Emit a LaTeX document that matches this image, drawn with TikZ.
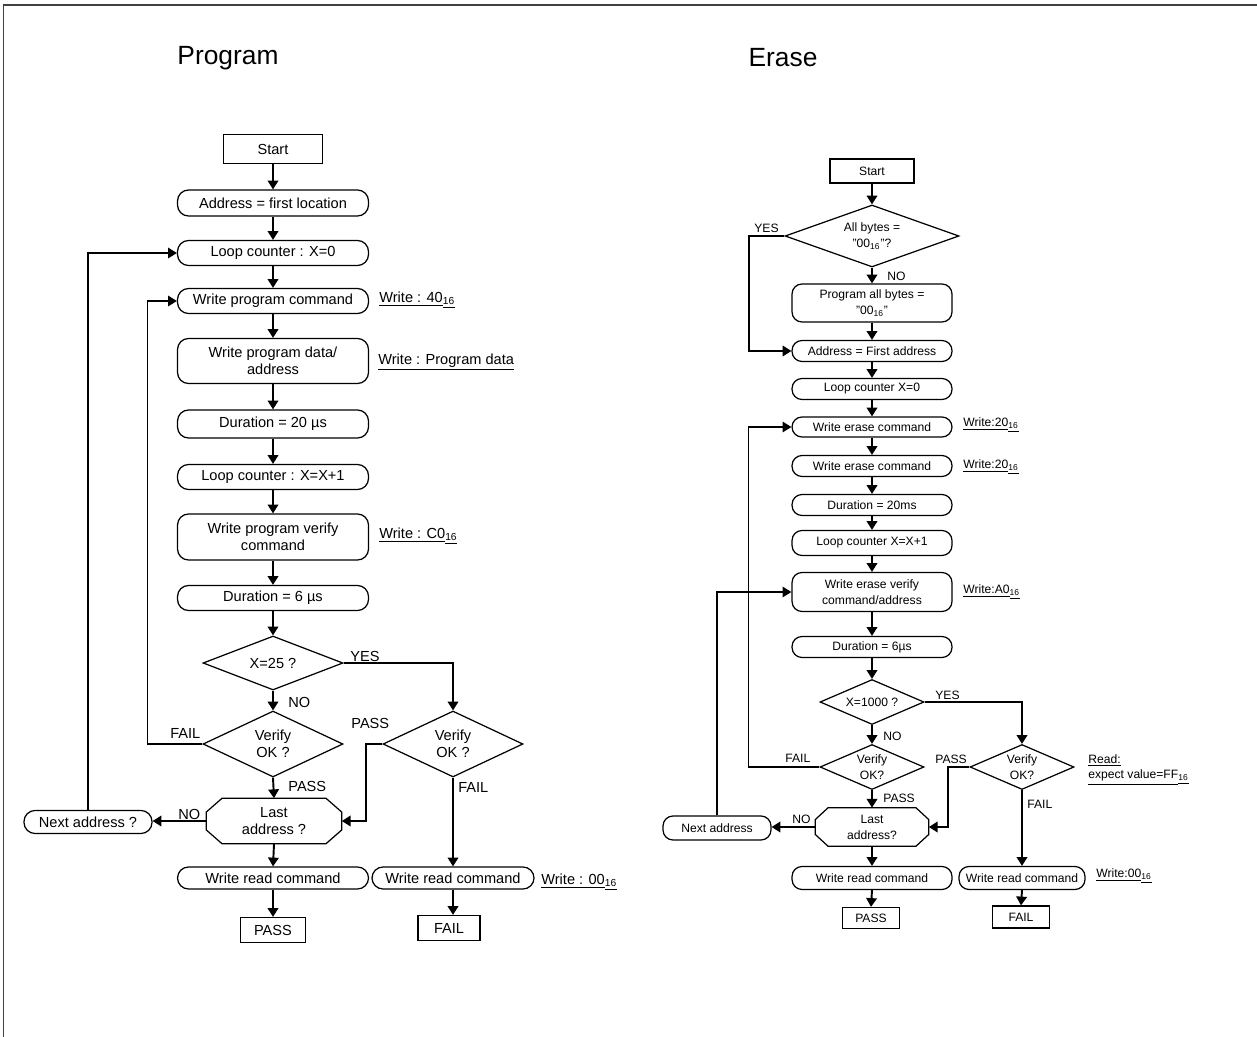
\documentclass[tikz,border=0pt]{standalone}
\usepackage{fontspec}
\setmainfont{Liberation Sans}
\usepackage{tikz}
\usetikzlibrary{shapes.geometric, arrows.meta, positioning, calc}

\newcommand{\hexval}[2]{\underline{#1}\underline{\textsubscript{#2}}}
% octagon drawn round a (plain) node: name, corner cut x, corner cut y
\newcommand{\octpath}[3]{%
  \draw[line width=0.7pt] ($(#1.north west)+(#2,0)$) -- ($(#1.north east)+(-#2,0)$) -- ($(#1.north east)+(0,#3)$)
    -- ($(#1.south east)+(0,-#3)$) -- ($(#1.south east)+(-#2,0)$) -- ($(#1.south west)+(#2,0)$)
    -- ($(#1.south west)+(0,-#3)$) -- ($(#1.north west)+(0,#3)$) -- cycle;}

\begin{document}
\begin{tikzpicture}[x=0.02cm, y=-0.02cm]
    % Define styles
    \tikzstyle{term} = [rectangle, draw, line width=0.7pt, inner sep=0pt, align=center]
    \tikzstyle{proc} = [rectangle, draw, rounded corners=0.22cm, line width=0.7pt, inner sep=0pt, align=center]
    \tikzstyle{rproc} = [proc, rounded corners=0.2cm, minimum width=3.2cm]
    \tikzstyle{pbox} = [proc, minimum width=3.82cm]
    \tikzstyle{decide} = [diamond, draw, aspect=2.5, line width=0.7pt, inner sep=0pt, align=center]
    \tikzstyle{octa} = [rectangle, inner sep=0pt, align=center]
    \tikzstyle{arrow} = [-{Triangle[length=5pt, width=6pt]}, line width=1.1pt]
    \tikzstyle{back} = [-{Triangle[length=5pt, width=6pt]}, line width=0.7pt]
    \tikzstyle{lbl} = [anchor=west, inner sep=0pt]
    \tikzstyle{lfont} = [font=\fontsize{8.3}{9.6}\selectfont]
    \tikzstyle{rfont} = [font=\fontsize{6.9}{9}\selectfont]

    \useasboundingbox (0,0) rectangle (1257,1037);
    \draw[black!75, line width=0.9pt] (3.5,1037) -- (3.5,5) -- (1257,5);

    % Titles
    \node[font=\fontsize{15}{18}\selectfont] (tprog) at (228,58) {Program};
    \node[font=\fontsize{15}{18}\selectfont] (terase) at (783,58) {Erase};

    % Program flow
    \begin{scope}[lfont]
    \node[term, minimum width=1.98cm, minimum height=0.58cm] (pstart) at (273,149) {Start};
    \node[pbox, minimum height=0.52cm] (paddr) at (273,203) {Address = first location};
    \node[pbox, minimum height=0.5cm] (ploop) at (273,253) {Loop counter : X=0};
    \node[pbox, minimum height=0.5cm] (pwcmd) at (273,301) {Write program command};
    \node[pbox, minimum height=0.9cm] (pwdata) at (273,361) {Write program data/\\address};
    \node[pbox, minimum height=0.56cm] (pdur) at (273,424) {Duration = 20 µs};
    \node[pbox, minimum height=0.5cm] (pinc) at (273,477) {Loop counter : X=X+1};
    \node[pbox, minimum height=0.92cm] (pverc) at (273,537) {Write program verify\\command};
    \node[pbox, minimum height=0.5cm] (pdur6) at (273,598) {Duration = 6 µs};
    \node[decide, minimum width=2.8cm, minimum height=1.08cm] (pchk) at (273,663) {X=25 ?};
    \node[decide, minimum width=2.8cm, minimum height=1.32cm] (pver) at (273,744) {Verify\\OK ?};
    \node[decide, minimum width=2.8cm, minimum height=1.32cm] (pver2) at (453,744) {Verify\\OK ?};
    \node[octa, minimum width=2.7cm, minimum height=0.9cm] (plast) at (274,821) {Last\\address ?};
    \octpath{plast}{16}{14}
    \node[proc, minimum width=2.56cm, minimum height=0.46cm] (pnext) at (88,822) {Next address ?};
    \node[pbox, minimum height=0.44cm] (pread) at (273,878) {Write read command};
    \node[proc, minimum width=3.24cm, minimum height=0.44cm] (pread2) at (453,878) {Write read command};
    \node[term, minimum width=1.3cm, minimum height=0.5cm] (ppass) at (273,930) {PASS};
    \node[term, minimum width=1.24cm, minimum height=0.5cm] (pfail) at (449,928) {FAIL};

    \node[lbl] (pw40) at (379,300) {\hexval{Write : 40}{16}};
    \node[lbl] (pwpd) at (378,362) {\underline{Write : Program data}};
    \node[lbl] (pwc0) at (379,536) {\hexval{Write : C0}{16}};
    \node[lbl] (pw00) at (541,882) {\hexval{Write : 00}{16}};
    \node[lbl] (pyes) at (350,656) {YES};
    \node[lbl] (pno) at (288,702) {NO};
    \node[lbl] (pfl) at (170,733) {FAIL};
    \node[lbl] (pps) at (288,786) {PASS};
    \node[lbl] (pps2) at (351,723) {PASS};
    \node[lbl] (pfl2) at (458,787) {FAIL};
    \node[lbl] (pno2) at (178,814) {NO};
    \end{scope}

    \foreach \a/\b in {pstart/paddr, paddr/ploop, ploop/pwcmd, pwcmd/pwdata, pwdata/pdur, pdur/pinc, pinc/pverc, pverc/pdur6, pdur6/pchk, pchk/pver, pver/plast, plast/pread, pread/ppass}
        \draw[arrow] (\a.south) -- (\b.north);
    \draw[arrow] (pchk.east) -| (pver2.north);
    \draw[arrow] (pver2.south) -- (pread2.north);
    \draw[arrow] (pread2.south) -- (pread2.south |- pfail.north);
    \draw[arrow] (pver2.west) -- ++(-16,0) |- (plast.east);
    \draw[arrow] (plast.west) -- (plast.west -| pnext.east);
    \draw[back] (pver.west) -- ++(-55,0) |- (pwcmd.west);
    \draw[back] (pnext.north) |- (ploop.west);

    % Erase flow
    \begin{scope}[rfont]
    \node[term, minimum width=1.68cm, minimum height=0.48cm] (rstart) at (872,171) {Start};
    \node[decide, minimum width=3.48cm, minimum height=1.24cm] (rall) at (872,236) {All bytes =\\"00\textsubscript{16}"?};
    \node[rproc, minimum height=0.76cm] (rpab) at (872,303) {Program all bytes =\\"00\textsubscript{16}"};
    \node[rproc, minimum height=0.42cm] (rafa) at (872,351) {Address = First address};
    \node[rproc, minimum height=0.42cm] (rlc0) at (872,389) {Loop counter X=0};
    \node[rproc, minimum height=0.4cm] (rwe1) at (872,427) {Write erase command};
    \node[rproc, minimum height=0.42cm] (rwe2) at (872,466) {Write erase command};
    \node[rproc, minimum height=0.42cm] (rd20) at (872,505) {Duration = 20ms};
    \node[rproc, minimum height=0.5cm] (rinc) at (872,543) {Loop counter X=X+1};
    \node[rproc, minimum height=0.78cm] (rwev) at (872,592) {Write erase verify\\command/address};
    \node[rproc, minimum height=0.42cm] (rd6) at (872,647) {Duration = 6µs};
    \node[decide, minimum width=2.08cm, minimum height=0.9cm] (rchk) at (872,702) {X=1000 ?};
    \node[decide, minimum width=2.08cm, minimum height=0.9cm] (rver) at (872,767) {Verify\\OK?};
    \node[decide, minimum width=2.08cm, minimum height=0.9cm] (rver2) at (1022,767) {Verify\\OK?};
    \node[octa, minimum width=2.26cm, minimum height=0.76cm] (rlast) at (872,827) {Last\\address?};
    \octpath{rlast}{13}{12}
    \node[rproc, minimum width=2.16cm, minimum height=0.48cm] (rnext) at (717,828) {Next address};
    \node[rproc, minimum height=0.46cm] (rread) at (872,878) {Write read command};
    \node[rproc, minimum width=2.52cm, minimum height=0.46cm] (rread2) at (1022,878) {Write read command};
    \node[term, minimum width=1.14cm, minimum height=0.42cm] (rpass) at (871,918) {PASS};
    \node[term, minimum width=1.14cm, minimum height=0.44cm] (rfail) at (1021,917) {FAIL};

    \node[lbl] (rw20) at (963,425) {\hexval{Write:20}{16}};
    \node[lbl] (rw20b) at (963,467) {\hexval{Write:20}{16}};
    \node[lbl] (rwa0) at (963,592) {\hexval{Write:A0}{16}};
    \node[lbl] (rw00) at (1096,876) {\hexval{Write:00}{16}};
    \node[lbl, anchor=north west, align=left] (rexp) at (1088,754) {\underline{Read:}\\\hexval{expect value=FF}{16}};
    \node[lbl] (ryes) at (754,228) {YES};
    \node[lbl] (rno) at (887,276) {NO};
    \node[lbl] (ryes2) at (935,695) {YES};
    \node[lbl] (rno2) at (883,736) {NO};
    \node[lbl] (rfl) at (785,758) {FAIL};
    \node[lbl] (rps) at (883,798) {PASS};
    \node[lbl] (rps2) at (935,759) {PASS};
    \node[lbl] (rfl2) at (1027,804) {FAIL};
    \node[lbl] (rno3) at (792,819) {NO};
    \end{scope}

    \foreach \a/\b in {rstart/rall, rall/rpab, rpab/rafa, rafa/rlc0, rlc0/rwe1, rwe1/rwe2, rwe2/rd20, rd20/rinc, rinc/rwev, rwev/rd6, rd6/rchk, rchk/rver, rver/rlast, rlast/rread, rread/rpass, rread2/rfail}
        \draw[arrow] (\a.south) -- (\b.north);
    \draw[arrow] (rall.west) -- ++(-35,0) |- (rafa.west);
    \draw[arrow] (rchk.east) -| (rver2.north);
    \draw[arrow] (rver2.south) -- (rread2.north);
    \draw[arrow] (rver2.west) -- ++(-21,0) |- (rlast.east);
    \draw[arrow] (rlast.west) -- (rlast.west -| rnext.east);
    \draw[back] (rver.west) -- ++(-71,0) |- (rwe1.west);
    \draw[back] (rnext.north) |- (rwev.west);
\end{tikzpicture}
\end{document}
